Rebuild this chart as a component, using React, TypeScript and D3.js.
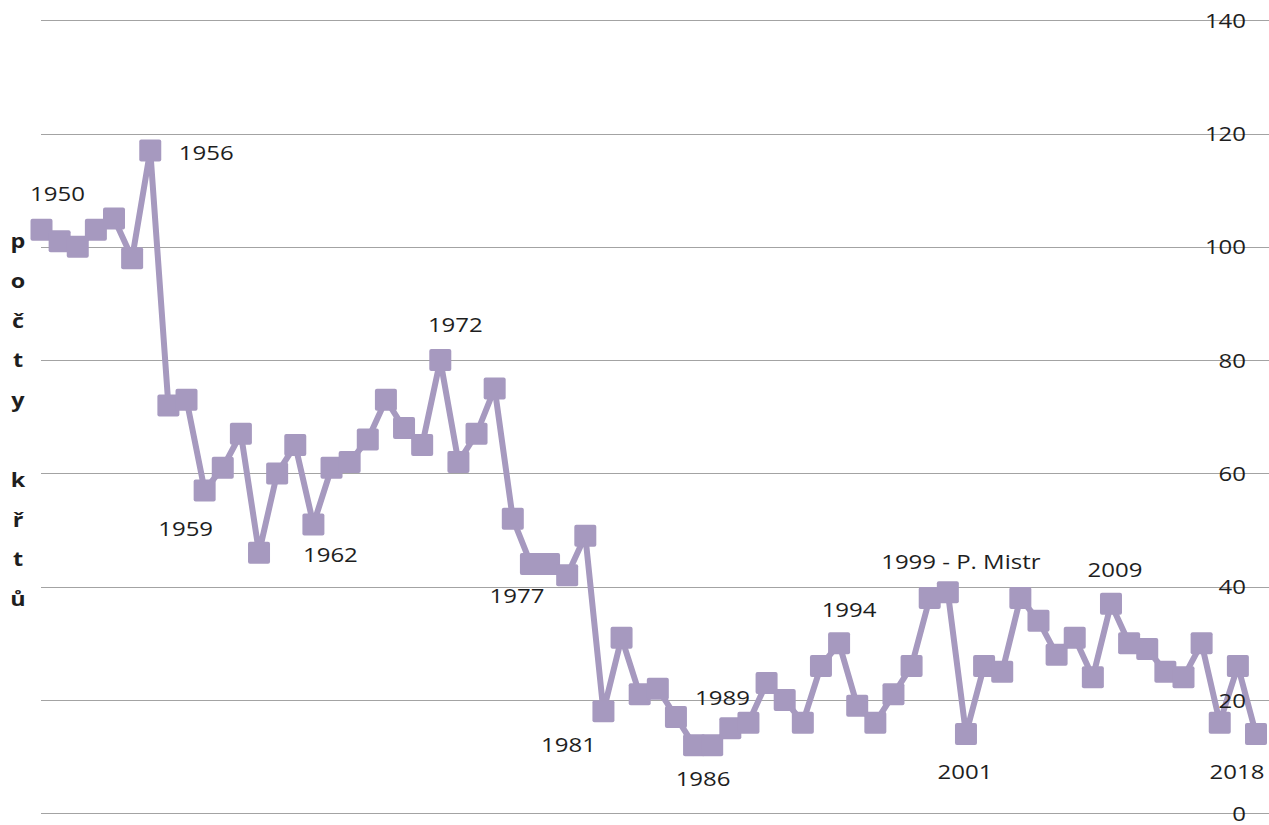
import React from 'react';
import * as d3 from 'd3';

// one value per year
const years = [
  1950, 1951, 1952, 1953, 1954, 1955, 1956, 1957, 1958, 1959,
  1960, 1961, 1962, 1963, 1964, 1965, 1966, 1967, 1968, 1969,
  1970, 1971, 1972, 1973, 1974, 1975, 1976, 1977, 1978, 1979,
  1980, 1981, 1982, 1983, 1984, 1985, 1986, 1987, 1988, 1989,
  1990, 1991, 1992, 1993, 1994, 1995, 1996, 1997, 1998, 1999,
  2000, 2001, 2002, 2003, 2004, 2005, 2006, 2007, 2008, 2009,
  2010, 2011, 2012, 2013, 2014, 2015, 2016, 2017,
];

const baptisms = [
  103, 101, 100, 103, 105, 98, 117, 72, 73, 57,
  61, 67, 46, 60, 65, 51, 61, 62, 66, 73,
  68, 65, 80, 62, 67, 75, 52, 44, 44, 42,
  49, 18, 31, 21, 22, 17, 12, 12, 15, 16,
  23, 20, 16, 26, 30, 19, 16, 21, 26, 38,
  39, 14, 26, 25, 38, 34, 28, 31, 24, 37,
  30, 29, 25, 24, 30, 16, 26, 14,
];

const yTicks = [0, 20, 40, 60, 80, 100, 120, 140];

// data labels: text, index of the point it hangs on, offset from that point
const labels = [
  { text: '1950', at: 0, dx: 16, dy: -29 },
  { text: '1956', at: 6, dx: 56, dy: 10 },
  { text: '1959', at: 9, dx: -19, dy: 46 },
  { text: '1962', at: 15, dx: 17, dy: 38 },
  { text: '1972', at: 22, dx: 15, dy: -28 },
  { text: '1977', at: 27, dx: -14, dy: 39 },
  { text: '1981', at: 31, dx: -35, dy: 41 },
  { text: '1986', at: 36, dx: 9, dy: 41 },
  { text: '1989', at: 39, dx: -26, dy: -18 },
  { text: '1994', at: 44, dx: 10, dy: -26 },
  { text: '1999 - P. Mistr', at: 50, dx: 13, dy: -23 },
  { text: '2001', at: 51, dx: -1, dy: 45 },
  { text: '2009', at: 59, dx: 4, dy: -27 },
  { text: '2018', at: 67, dx: -19, dy: 45 },
];

const yTitle = 'počty křtů';

const W = 1269;
const H = 825;
const FONT = '"Open Sans", Lato, sans-serif';
const STRETCH = 1.17; // the original text is a bit wide
const LINE_COLOR = '#a699bf';
const TEXT_COLOR = '#1e1e1e';

export default function App() {
  const x = d3.scalePoint<number>().domain(years).range([41.5, 1256]);
  const y = d3.scaleLinear().domain([0, 140]).range([813.3, 20.2]);

  const data = years.map((yr, i) => ({ yr, v: baptisms[i] }));
  const line = d3.line<{ yr: number; v: number }>()
    .x(d => x(d.yr)!)
    .y(d => y(d.v));

  const m = 22; // marker size

  return (
    <div style={{ position: 'absolute', left: 0, top: 0 }}>
      <svg width={W} height={H} style={{ display: 'block', background: '#fff' }}>
        {/* gridlines */}
        {yTicks.map(t => (
          <line key={t} x1={41} x2={W} y1={Math.round(y(t)) + 0.5} y2={Math.round(y(t)) + 0.5}
            stroke="#a3a3a3" strokeWidth={1} />
        ))}

        <path d={line(data) || ''} fill="none" stroke={LINE_COLOR} strokeWidth={6}
          strokeLinejoin="round" />

        {data.map(d => (
          <rect key={d.yr} x={x(d.yr)! - m / 2} y={y(d.v) - m / 2} width={m} height={m}
            rx={2} fill={LINE_COLOR} />
        ))}

        {/* value axis labels on the right */}
        {yTicks.map(t => (
          <text key={t} transform={`translate(1246,${y(t) + 7.5}) scale(${STRETCH},1)`}
            textAnchor="end" fontFamily={FONT} fontSize={20.5} fill={TEXT_COLOR}>
            {t}
          </text>
        ))}

        {/* data labels */}
        {labels.map(l => (
          <text key={l.text}
            transform={`translate(${x(years[l.at])! + l.dx},${y(baptisms[l.at]) + l.dy}) scale(${STRETCH},1)`}
            textAnchor="middle" fontFamily={FONT} fontSize={20.5} fill={TEXT_COLOR}>
            {l.text}
          </text>
        ))}

        {/* stacked axis title */}
        {Array.from(yTitle).map((ch, i) => (
          <text key={i} transform={`translate(18,${248 + i * 39.8}) scale(${STRETCH},1)`}
            textAnchor="middle" fontFamily={FONT} fontSize={20} fontWeight="bold" fill={TEXT_COLOR}>
            {ch}
          </text>
        ))}
      </svg>
    </div>
  );
}
